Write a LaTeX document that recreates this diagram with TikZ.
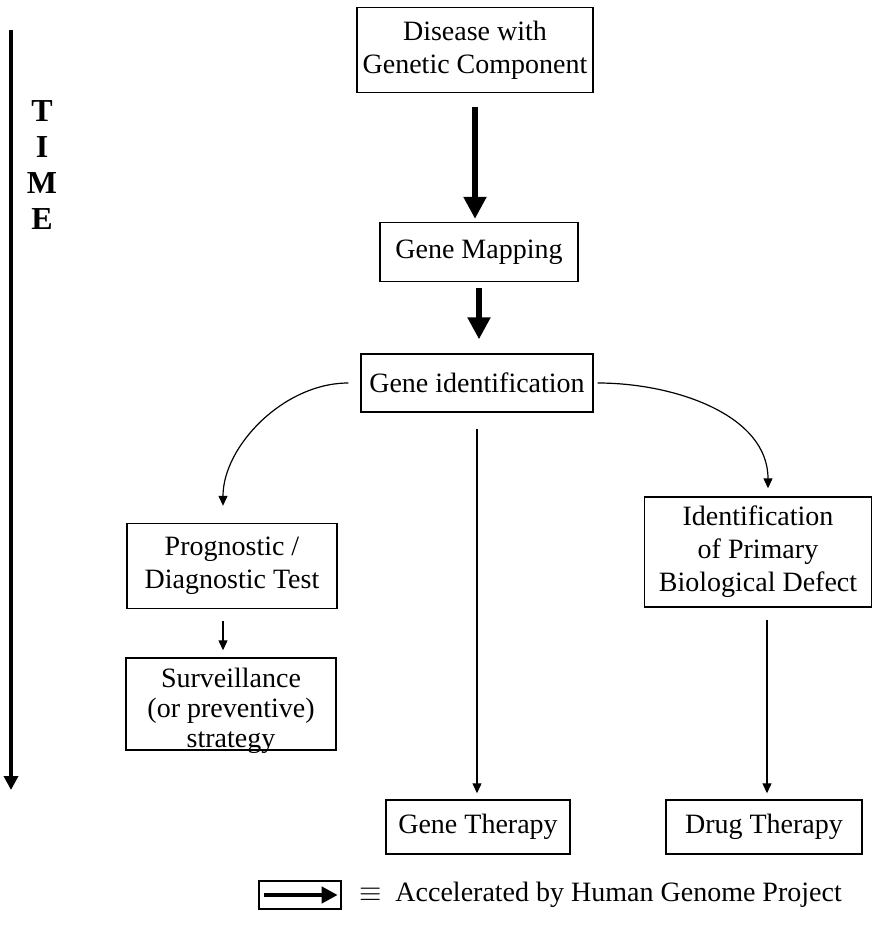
\documentclass[tikz,border=0pt]{standalone}
\usepackage{fontspec}
\setmainfont{Liberation Serif}
\usetikzlibrary{arrows.meta}

\begin{document}
\begin{tikzpicture}[x=0.5pt, y=-0.5pt,
        box/.style={draw, line width=0.7pt, align=center, inner sep=0pt, font=\fontsize{14}{16.5}\selectfont},
        fat arrow/.style={line width=2.6pt, -{Triangle[length=11pt, width=11pt]}},
        slim arrow/.style={line width=0.6pt, -{Triangle[length=5pt, width=4.5pt]}}]

        \useasboundingbox (0,0) rectangle (876,937);

        \node[font=\fontsize{16}{18}\selectfont\bfseries, align=center] (time) at (42,165) {T\\I\\M\\E};
        \coordinate (timetop) at (11,30);
        \coordinate (timeend) at (11,790);
        \draw[line width=1.7pt, -{Triangle[length=7pt, width=7pt]}] (timetop) -- (timeend);

        \node[box, minimum width=118pt, minimum height=42.5pt] (disease) at (475,50) {Disease with\\Genetic Component};
        \node[box, minimum width=99pt, minimum height=29.5pt] (mapping) at (479,252) {Gene Mapping};
        \node[box, minimum width=116pt, minimum height=29pt] (geneid) at (477,383) {Gene identification};

        \node[box, minimum width=105pt, minimum height=42.5pt] (prognostic) at (232,566) {Prognostic /\\Diagnostic Test};
        \node[box, minimum width=105pt, minimum height=46pt] (surveillance) at (231,704) {};
        \node[align=center, inner sep=0pt, anchor=north, font=\fontsize{14}{15}\selectfont] (survtext) at ([yshift=-5pt]surveillance.north) {Surveillance\\(or preventive)\\strategy};
        \node[box, minimum width=113.5pt, minimum height=55pt] (defect) at (758,552) {Identification\\of Primary\\Biological Defect};

        \node[box, minimum width=92pt, minimum height=27pt] (genetherapy) at (478,827) {Gene Therapy};
        \node[box, minimum width=98pt, minimum height=27pt] (drugtherapy) at (764,827) {Drug Therapy};

        \draw[fat arrow, shorten <=7pt, shorten >=1.5pt] (disease.south) -- (disease.south |- mapping.north);
        \draw[fat arrow, shorten <=3pt, shorten >=7pt] (mapping.south) -- (mapping.south |- geneid.north);

        \draw[slim arrow, shorten <=6pt, shorten >=8.5pt] (geneid.west) to[out=180, in=90] ([xshift=-4.5pt]prognostic.north);
        \draw[slim arrow, shorten <=8pt, shorten >=3pt] (geneid.south) -- (geneid.south |- genetherapy.north);
        \draw[slim arrow, shorten <=2pt, shorten >=4pt] (geneid.east) to[out=0, in=90] ([xshift=5pt]defect.north);

        \draw[slim arrow, shorten <=6pt, shorten >=3.5pt] ([xshift=-4.5pt]prognostic.south) -- ([xshift=-4.5pt]prognostic.south |- surveillance.north);
        \draw[slim arrow, shorten <=6pt, shorten >=3pt] ([xshift=4.5pt]defect.south) -- ([xshift=4.5pt]defect.south |- drugtherapy.north);

        \node[draw, line width=0.7pt, minimum width=41pt, minimum height=14pt, inner sep=0pt] (key) at (300,895) {};
        \draw[line width=2pt, -{Triangle[length=8pt, width=8pt]}] ([xshift=3pt]key.west) -- ([xshift=-2pt]key.east);
        \node[anchor=west, font=\fontsize{14}{16.5}\selectfont] (keytext) at (352,895) {$\equiv$\ \ Accelerated by Human Genome Project};
    \end{tikzpicture}
\end{document}
